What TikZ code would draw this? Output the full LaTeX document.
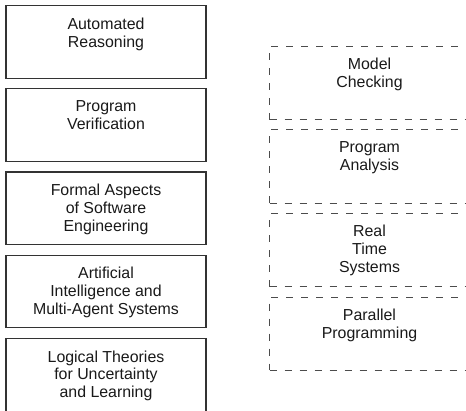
\documentclass[tikz,border=0pt]{standalone}
\usepackage{fontspec}
\setmainfont{Liberation Sans}
\begin{document}
\begin{tikzpicture}[x=1pt,y=-1pt,
  solidbox/.style={draw=black!80,line width=1.1pt,rectangle,inner sep=0pt,outer sep=0pt,
    minimum width=200pt,minimum height=72.6pt,anchor=north west},
  dashbox/.style={draw=black!70,line width=0.9pt,dash pattern=on 7pt off 8pt,rectangle,inner sep=0pt,outer sep=0pt,
    minimum width=200pt,minimum height=73.3pt,anchor=north west},
  boxtext/.style={anchor=north,inner sep=0pt,outer sep=0pt,align=center,text=black!90,
    font=\fontsize{15.9pt}{17.8pt}\selectfont}]
\clip (0,0) rectangle (466,410);
\useasboundingbox (0,0) rectangle (466,410);
% left column
\node[solidbox] (l1) at (6,5.7) {};
\node[solidbox] (l2) at (6,88.7) {};
\node[solidbox] (l3) at (6,172) {};
\node[solidbox] (l4) at (6,255.3) {};
\node[solidbox] (l5) at (6,338.6) {};
\node[boxtext] (t1) at ([yshift=-12pt]l1.north) {Automated\\Reasoning};
\node[boxtext] (t2) at ([yshift=-12pt]l2.north) {Program\\Verification};
\node[boxtext] (t3) at ([yshift=-12pt]l3.north) {Formal Aspects\\of Software\\Engineering};
\node[boxtext] (t4) at ([yshift=-12pt]l4.north) {Artificial\\Intelligence and\\Multi-Agent Systems};
\node[boxtext] (t5) at ([yshift=-12pt]l5.north) {Logical Theories\\for Uncertainty\\and Learning};
% right column
\node[dashbox] (r1) at (269.5,46.3) {};
\node[dashbox] (r2) at (269.5,129.7) {};
\node[dashbox] (r3) at (269.5,213.3) {};
\node[dashbox] (r4) at (269.5,297) {};
\node[boxtext] (u1) at ([yshift=-12pt]r1.north) {Model\\Checking};
\node[boxtext] (u2) at ([yshift=-12pt]r2.north) {Program\\Analysis};
\node[boxtext] (u3) at ([yshift=-12pt]r3.north) {Real\\Time\\Systems};
\node[boxtext] (u4) at ([yshift=-12pt]r4.north) {Parallel\\Programming};
\end{tikzpicture}
\end{document}
